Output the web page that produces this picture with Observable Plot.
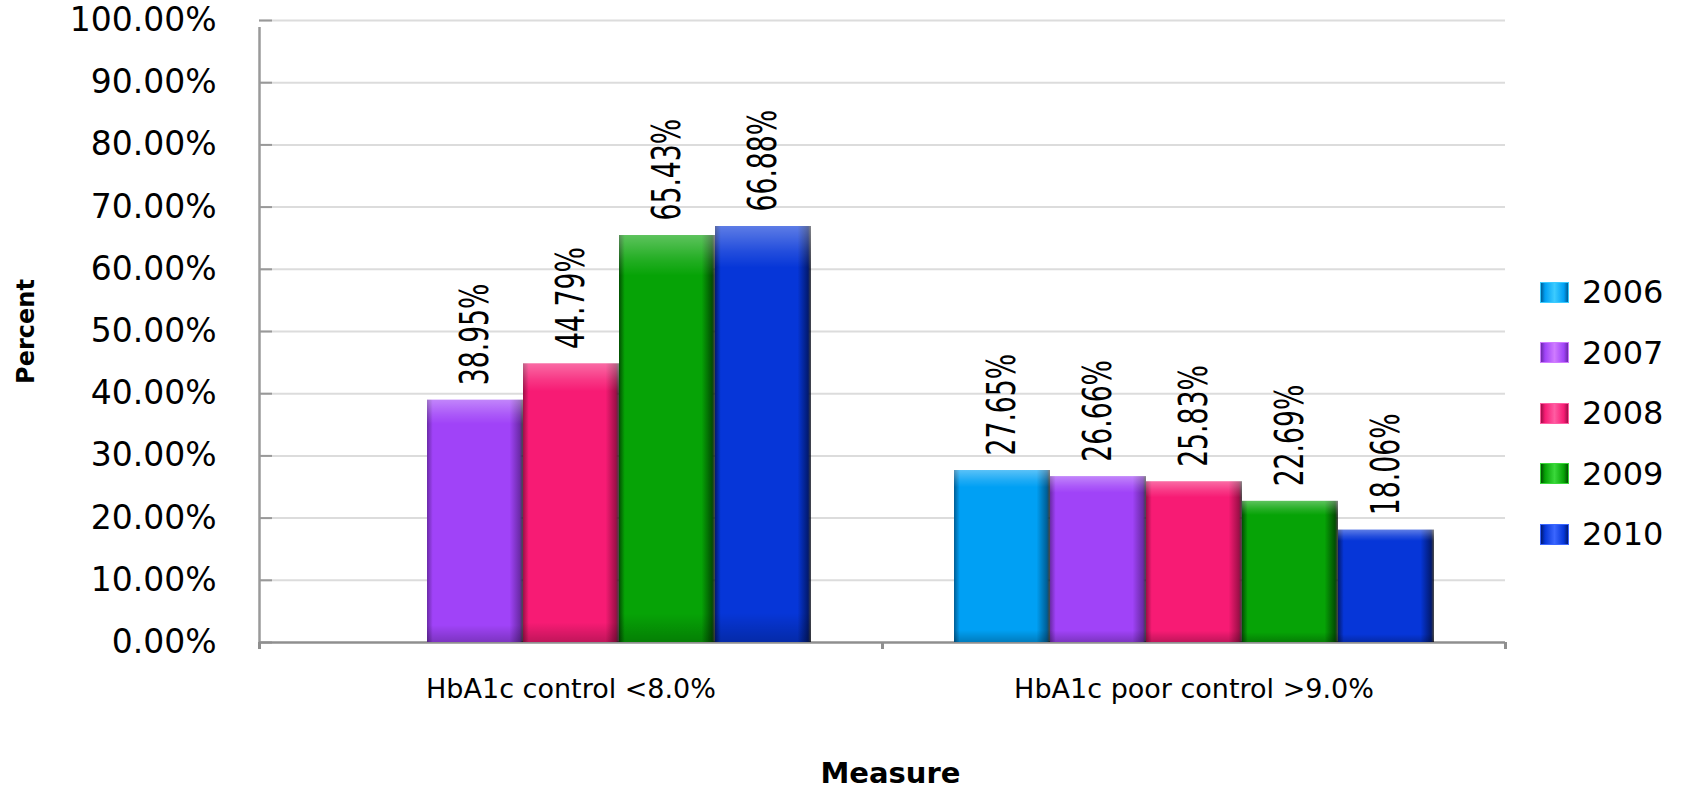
<!DOCTYPE html>
<html>
<head>
<meta charset="utf-8">
<script src="https://cdn.jsdelivr.net/npm/d3@7"></script>
<script src="https://cdn.jsdelivr.net/npm/@observablehq/plot@0.6"></script>
<style>
  html, body { margin: 0; padding: 0; background: #fff; }
  #wrap { position: relative; width: 1688px; height: 789px; overflow: hidden; }
  #wrap svg { position: absolute; left: 0; top: 0; max-width: none; }
  #legend { position: absolute; left: 1540px; top: 262px; font-family: "DejaVu Sans", Verdana, sans-serif; font-size: 32px; color: #000; }
  #legend .row { display: flex; align-items: center; height: 60.5px; }
  #legend .sw { width: 29px; height: 21px; margin-right: 13px; box-sizing: border-box; }
</style>
</head>
<body>
<div id="wrap"></div>
<script>
// ---- data ----
const measures = ["HbA1c control <8.0%", "HbA1c poor control >9.0%"];
const years = ["2006", "2007", "2008", "2009", "2010"];
const controlValues = [null, 38.95, 44.79, 65.43, 66.88];
const poorControlValues = [27.65, 26.66, 25.83, 22.69, 18.06];
const yTicks = [0, 10, 20, 30, 40, 50, 60, 70, 80, 90, 100];
const xTitle = "Measure";
const yTitle = "Percent";

// ---- palette ----
const baseColors  = ["#00a0f4", "#a043f8", "#f71b74", "#06a306", "#0636d8"];
const lightColors = ["#3ccbff", "#cf7bff", "#ff5ca2", "#3ad83a", "#3a66ff"];
const darkColors  = ["#005d94", "#6a2aa6", "#9c0f47", "#024f02", "#021a70"];

const seriesByMeasure = [controlValues, poorControlValues];
const data = [];
measures.forEach((m, i) => {
  years.forEach((y, j) => {
    const v = seriesByMeasure[i][j];
    if (v != null) data.push({measure: m, year: y, value: v});
  });
});

const W = 1688, H = 789;
const margins = {marginLeft: 259, marginRight: 183, marginTop: 20, marginBottom: 147};
const font = "'DejaVu Sans', Verdana, sans-serif";
const condensed = "'DejaVu Sans Condensed', 'DejaVu Sans', sans-serif";

// ---- background: axes, grid, titles ----
const back = Plot.plot({
  width: W, height: H, ...margins,
  style: {background: "transparent", fontFamily: font, overflow: "visible"},
  x: {type: "linear", domain: [0, measures.length], axis: null},
  y: {domain: [0, 100], axis: null},
  marks: [
    Plot.ruleY(yTicks.filter(d => d > 0), {x1: 0, x2: measures.length, stroke: "#dcdcdc", strokeWidth: 2}),
    Plot.axisY(yTicks, {anchor: "left", tickSize: -13, tickPadding: 56, stroke: "#999", strokeWidth: 2,
      fill: "#000", fontSize: 33, fontFamily: font, tickFormat: d => d.toFixed(2) + "%", label: null}),
    Plot.ruleX([0], {y1: 0, y2: 100, insetBottom: -7, stroke: "#9a9a9a", strokeWidth: 2.5}),
    Plot.ruleY([0], {x1: 0, x2: measures.length, stroke: "#8f8f8f", strokeWidth: 2.5}),
    Plot.axisX(d3.range(measures.length + 1), {anchor: "bottom", tickSize: 7, tickFormat: () => "",
      stroke: "#8f8f8f", strokeWidth: 3, label: null}),
    Plot.text(measures, {x: (d, i) => i + 0.5, y: 0, dy: 47, lineAnchor: "middle",
      fontSize: 27, fontFamily: font, fill: "#000"}),
    Plot.text([xTitle], {frameAnchor: "bottom", dx: 8, dy: 131, textAnchor: "middle", lineAnchor: "middle",
      fontSize: 29, fontWeight: "bold", fontFamily: font, fill: "#000"}),
    Plot.text([yTitle], {frameAnchor: "left", dx: -233, rotate: -90, textAnchor: "middle", lineAnchor: "middle",
      fontSize: 24, fontWeight: "bold", fontFamily: font, fill: "#000"})
  ]
});

// ---- foreground: bars and labels ----
const bars = Plot.plot({
  width: W, height: H, ...margins,
  style: {background: "transparent", fontFamily: font, overflow: "visible"},
  fx: {domain: measures, paddingInner: 0.23, paddingOuter: 0.115, axis: null, label: null},
  x: {domain: years, padding: 0, axis: null},
  y: {domain: [0, 100], axis: null},
  color: {type: "identity"},
  marks: [
    Plot.barY(data, {fx: "measure", x: "year", y: "value", fill: d => `url(#grad${d.year})`}),
    Plot.barY(data, {fx: "measure", x: "year", y: "value", fill: "url(#shade)"}),
    Plot.text(data, {fx: "measure", x: "year", y: "value", text: d => d.value.toFixed(2) + "%",
      rotate: -90, textAnchor: "start", lineAnchor: "middle", dy: -15,
      fontSize: 38, fontFamily: condensed, fill: "#000"})
  ]
});

// squeeze the rotated value labels along their length (narrow face)
bars.querySelectorAll("text").forEach(t => {
  const tr = t.getAttribute("transform");
  if (tr && tr.includes("rotate")) t.setAttribute("transform", tr + " scale(0.78,1.04)");
});

// gradients
const NS = "http://www.w3.org/2000/svg";
const defs = document.createElementNS(NS, "defs");
let html = "";
years.forEach((y, i) => {
  html += `<linearGradient id="grad${y}" x1="0" y1="0" x2="1" y2="0">
    <stop offset="0" stop-color="${darkColors[i]}"/>
    <stop offset="0.06" stop-color="${baseColors[i]}"/>
    <stop offset="0.5" stop-color="${baseColors[i]}"/>
    <stop offset="0.86" stop-color="${baseColors[i]}"/>
    <stop offset="0.97" stop-color="${darkColors[i]}"/>
    <stop offset="1" stop-color="#000" stop-opacity="0.7"/>
  </linearGradient>`;
});
html += `<linearGradient id="shade" x1="0" y1="0" x2="0" y2="1">
  <stop offset="0" stop-color="#fff" stop-opacity="0.35"/>
  <stop offset="0.06" stop-color="#fff" stop-opacity="0.12"/>
  <stop offset="0.1" stop-color="#fff" stop-opacity="0"/>
  <stop offset="0.93" stop-color="#000" stop-opacity="0"/>
  <stop offset="1" stop-color="#000" stop-opacity="0.22"/>
</linearGradient>`;
defs.innerHTML = html;
bars.insertBefore(defs, bars.firstChild);

const wrap = document.getElementById("wrap");
wrap.appendChild(back);
wrap.appendChild(bars);

// legend
const legend = document.createElement("div");
legend.id = "legend";
years.forEach((y, i) => {
  const row = document.createElement("div");
  row.className = "row";
  const sw = document.createElement("div");
  sw.className = "sw";
  sw.style.background = `linear-gradient(to right, ${darkColors[i]} 0%, ${baseColors[i]} 15%, ${lightColors[i]} 50%, ${baseColors[i]} 85%, ${darkColors[i]} 100%)`;
  sw.style.border = `1px solid ${lightColors[i]}`;
  const lab = document.createElement("span");
  lab.textContent = y;
  row.appendChild(sw);
  row.appendChild(lab);
  legend.appendChild(row);
});
wrap.appendChild(legend);
</script>
</body>
</html>
